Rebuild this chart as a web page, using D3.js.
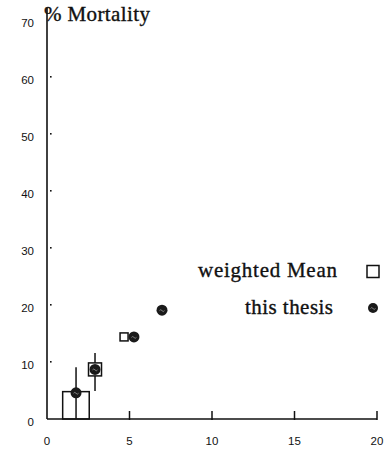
<!DOCTYPE html>
<html>
<head>
<meta charset="utf-8">
<script src="https://cdn.jsdelivr.net/npm/d3@7"></script>
<style>
  html, body { margin: 0; padding: 0; background: #fff; }
  svg { display: block; }
</style>
</head>
<body>
<script>
// Mortality (%) plotted against dose; two sources of estimates.
const xTicks = [0, 5, 10, 15, 20];
const yTicks = [0, 10, 20, 30, 40, 50, 60, 70];

// Weighted mean estimates: x, mortality, error bar low/high, marker size class
const meanX = [2.91, 4.67];
const meanY = [8.7, 14.4];
const meanLo = [4.9, null];
const meanHi = [11.6, null];
const meanBig = [true, false];

// Range box for the first weighted-mean class (x from/to, height)
const boxX0 = [0.95];
const boxX1 = [2.56];
const boxY = [4.8];

// Values from this thesis
const thesisX = [1.76, 2.91, 5.27, 6.97];
const thesisY = [4.6, 8.7, 14.4, 19.1];
const thesisLo = [null, null, null, null];
const thesisHi = [9.1, null, null, null];

const legendLabels = ["weighted Mean", "this thesis"];

const W = 390, H = 452;
const svg = d3.select("body").append("svg").attr("width", W).attr("height", H);

const x = d3.scaleLinear().domain([0, 20]).range([47, 377]);
const y = d3.scaleLinear().domain([0, 70]).range([419, 20]);

const ink = "#111";
const serif = "'Liberation Serif', 'Times New Roman', serif";
const sans = "'Liberation Sans', Arial, sans-serif";

// y axis
const yAxis = svg.append("g");
yAxis.append("line")
  .attr("x1", x(0)).attr("x2", x(0))
  .attr("y1", 8).attr("y2", y(0))
  .attr("stroke", ink).attr("stroke-width", 1.6);
yAxis.selectAll("rect.tick").data(yTicks.filter(d => d > 0 && d < 70)).join("rect")
  .attr("x", x(0) + 3).attr("y", d => y(d) - 1)
  .attr("width", 1.6).attr("height", 1.6).attr("fill", ink);
yAxis.selectAll("text").data(yTicks).join("text")
  .attr("x", 34).attr("y", d => y(d) + 7)
  .attr("text-anchor", "end")
  .attr("font-family", sans).attr("font-size", 11.5)
  .attr("fill", ink)
  .text(d => d);

// x axis
const xAxis = svg.append("g");
xAxis.append("line")
  .attr("x1", x(0)).attr("x2", x(20))
  .attr("y1", y(0)).attr("y2", y(0))
  .attr("stroke", ink).attr("stroke-width", 1.6);
xAxis.selectAll("line.tick").data(xTicks.filter(d => d > 0)).join("line")
  .attr("class", "tick")
  .attr("x1", d => x(d)).attr("x2", d => x(d))
  .attr("y1", y(0) - 8).attr("y2", y(0) + 1)
  .attr("stroke", ink).attr("stroke-width", 1.5);
xAxis.selectAll("text").data(xTicks).join("text")
  .attr("x", d => x(d)).attr("y", 445)
  .attr("text-anchor", "middle")
  .attr("font-family", sans).attr("font-size", 11.5)
  .attr("fill", ink)
  .text(d => d);

// title
svg.append("text")
  .attr("x", 44).attr("y", 21)
  .attr("font-family", serif).attr("font-size", 21)
  .attr("textLength", 106).attr("lengthAdjust", "spacing")
  .attr("fill", ink).attr("stroke", ink).attr("stroke-width", 0.35)
  .text("% Mortality");

// range box
svg.selectAll("rect.box").data(boxY).join("rect")
  .attr("class", "box")
  .attr("x", (d, i) => x(boxX0[i]))
  .attr("width", (d, i) => x(boxX1[i]) - x(boxX0[i]))
  .attr("y", d => y(d))
  .attr("height", d => y(0) - y(d))
  .attr("fill", "none").attr("stroke", ink).attr("stroke-width", 1.5);

// error bars
function errorBars(xs, lo, hi) {
  xs.forEach((xv, i) => {
    if (hi[i] != null) {
      const base = lo[i] != null ? lo[i] : 0;
      svg.append("line")
        .attr("x1", x(xv)).attr("x2", x(xv))
        .attr("y1", y(base)).attr("y2", y(hi[i]))
        .attr("stroke", ink).attr("stroke-width", 1.5);
    }
  });
}
errorBars(meanX, meanLo, meanHi);
errorBars(thesisX, thesisLo, thesisHi);

// weighted mean squares
const sq = (cx, cy, s) => svg.append("rect")
  .attr("x", cx - s / 2).attr("y", cy - s / 2)
  .attr("width", s).attr("height", s)
  .attr("fill", "#fff").attr("stroke", ink).attr("stroke-width", 1.5);
meanX.forEach((xv, i) => sq(x(xv), y(meanY[i]), meanBig[i] ? 13 : 8));

// thesis circles
const dot = (cx, cy, r) => {
  svg.append("circle").attr("cx", cx).attr("cy", cy).attr("r", r).attr("fill", "#1a1a1a");
  svg.append("path")
    .attr("d", `M${cx - 2.5},${cy + 0.5} q1.2,-1.8 2.5,0 q1.2,1.8 2.5,0`)
    .attr("fill", "none").attr("stroke", "#aaa").attr("stroke-width", 0.7);
};
thesisX.forEach((xv, i) => dot(x(xv), y(thesisY[i]), 5.5));

// legend
const legY = [271.5, 308];
const legW = [139, 88];
const legRight = [337, 333];
svg.selectAll("text.leg").data(legendLabels).join("text")
  .attr("class", "leg")
  .attr("x", (d, i) => legRight[i] - legW[i]).attr("y", (d, i) => legY[i] + 5.5)
  .attr("textLength", (d, i) => legW[i]).attr("lengthAdjust", "spacing")
  .attr("font-family", serif).attr("font-size", 21)
  .attr("fill", ink).attr("stroke", ink).attr("stroke-width", 0.35)
  .text(d => d);
sq(373, legY[0], 12);
dot(373, legY[1], 5);
</script>
</body>
</html>
